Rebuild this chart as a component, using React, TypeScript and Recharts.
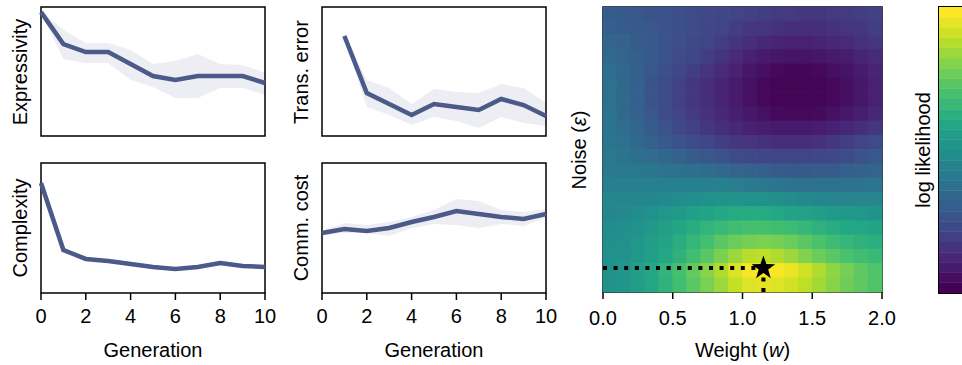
import React from "react"
import {
  ComposedChart,
  Area,
  Line,
  XAxis,
  YAxis,
  ReferenceArea,
  ScatterChart,
  Scatter,
  BarChart,
  Bar,
} from "recharts"

const generations = [0, 1, 2, 3, 4, 5, 6, 7, 8, 9, 10]
const generationTicks = [0, 2, 4, 6, 8, 10]

const expressivity = [0.96, 0.713, 0.651, 0.651, 0.558, 0.465, 0.434, 0.465, 0.465, 0.465, 0.411]
const expressivityLow = [0.95, 0.597, 0.566, 0.566, 0.434, 0.38, 0.295, 0.295, 0.372, 0.372, 0.318]
const expressivityHigh = [0.97, 0.822, 0.721, 0.721, 0.667, 0.558, 0.581, 0.636, 0.558, 0.55, 0.488]

const transError = [null, 0.775, 0.333, 0.248, 0.163, 0.248, 0.225, 0.202, 0.287, 0.24, 0.155]
const transErrorLow = [null, 0.76, 0.225, 0.163, 0.085, 0.147, 0.116, 0.062, 0.147, 0.101, 0.078]
const transErrorHigh = [null, 0.798, 0.434, 0.372, 0.248, 0.364, 0.341, 0.333, 0.403, 0.372, 0.256]

const complexity = [0.846, 0.331, 0.262, 0.246, 0.223, 0.2, 0.185, 0.2, 0.231, 0.208, 0.2]
const complexityLow = [0.84, 0.31, 0.25, 0.235, 0.21, 0.19, 0.17, 0.185, 0.215, 0.195, 0.185]
const complexityHigh = [0.85, 0.35, 0.275, 0.26, 0.235, 0.21, 0.2, 0.215, 0.25, 0.222, 0.215]

const commCost = [0.462, 0.492, 0.477, 0.5, 0.546, 0.585, 0.631, 0.608, 0.585, 0.569, 0.608]
const commCostLow = [0.446, 0.462, 0.462, 0.438, 0.5, 0.531, 0.523, 0.5, 0.531, 0.515, 0.577]
const commCostHigh = [0.477, 0.538, 0.523, 0.546, 0.585, 0.638, 0.723, 0.708, 0.638, 0.623, 0.646]

// likelihood surface, cell centres (weight across, noise top to bottom), 0 = lowest, 1 = highest
const weightBins = [0.05, 0.15, 0.25, 0.35, 0.45, 0.55, 0.65, 0.75, 0.85, 0.95, 1.05, 1.15, 1.25, 1.35, 1.45, 1.55, 1.65, 1.75, 1.85, 1.95]
const noiseBins = [0.975, 0.925, 0.875, 0.825, 0.775, 0.725, 0.675, 0.625, 0.575, 0.525, 0.475, 0.425, 0.375, 0.325, 0.275, 0.225, 0.175, 0.125, 0.075, 0.025]
const likelihoodGrid = [
  [0.29, 0.28, 0.27, 0.26, 0.25, 0.24, 0.23, 0.22, 0.21, 0.2, 0.19, 0.18, 0.17, 0.17, 0.16, 0.16, 0.17, 0.17, 0.18, 0.19],
  [0.3, 0.29, 0.28, 0.27, 0.26, 0.24, 0.23, 0.21, 0.2, 0.18, 0.16, 0.15, 0.14, 0.13, 0.13, 0.13, 0.14, 0.15, 0.16, 0.18],
  [0.32, 0.31, 0.29, 0.28, 0.26, 0.24, 0.22, 0.2, 0.18, 0.15, 0.13, 0.11, 0.1, 0.09, 0.09, 0.1, 0.11, 0.12, 0.14, 0.16],
  [0.34, 0.32, 0.3, 0.28, 0.26, 0.23, 0.21, 0.18, 0.15, 0.12, 0.09, 0.07, 0.06, 0.055, 0.055, 0.06, 0.07, 0.08, 0.1, 0.12],
  [0.36, 0.33, 0.3, 0.27, 0.24, 0.21, 0.18, 0.15, 0.12, 0.09, 0.06, 0.04, 0.02, 0.015, 0.015, 0.02, 0.04, 0.055, 0.075, 0.1],
  [0.37, 0.33, 0.3, 0.26, 0.23, 0.19, 0.16, 0.13, 0.1, 0.07, 0.045, 0.02, 0.01, 0.01, 0.01, 0.01, 0.02, 0.04, 0.065, 0.09],
  [0.37, 0.34, 0.3, 0.26, 0.23, 0.19, 0.16, 0.13, 0.1, 0.07, 0.045, 0.02, 0.01, 0.01, 0.01, 0.01, 0.02, 0.04, 0.065, 0.09],
  [0.38, 0.34, 0.31, 0.27, 0.23, 0.2, 0.17, 0.14, 0.11, 0.085, 0.065, 0.045, 0.025, 0.02, 0.02, 0.025, 0.045, 0.065, 0.085, 0.11],
  [0.38, 0.35, 0.32, 0.29, 0.25, 0.22, 0.19, 0.16, 0.13, 0.11, 0.09, 0.08, 0.07, 0.07, 0.07, 0.08, 0.09, 0.11, 0.13, 0.16],
  [0.39, 0.37, 0.34, 0.31, 0.28, 0.26, 0.23, 0.21, 0.18, 0.16, 0.15, 0.14, 0.13, 0.13, 0.13, 0.14, 0.16, 0.18, 0.2, 0.23],
  [0.4, 0.38, 0.36, 0.35, 0.33, 0.31, 0.29, 0.27, 0.25, 0.23, 0.22, 0.21, 0.2, 0.2, 0.2, 0.21, 0.22, 0.23, 0.25, 0.27],
  [0.41, 0.4, 0.4, 0.39, 0.38, 0.37, 0.36, 0.35, 0.34, 0.32, 0.31, 0.3, 0.29, 0.28, 0.28, 0.29, 0.29, 0.3, 0.31, 0.32],
  [0.43, 0.43, 0.43, 0.43, 0.43, 0.43, 0.43, 0.43, 0.43, 0.42, 0.41, 0.4, 0.39, 0.38, 0.37, 0.37, 0.37, 0.37, 0.38, 0.39],
  [0.45, 0.45, 0.46, 0.46, 0.47, 0.48, 0.49, 0.5, 0.51, 0.51, 0.5, 0.5, 0.49, 0.48, 0.47, 0.46, 0.45, 0.45, 0.45, 0.45],
  [0.46, 0.47, 0.48, 0.5, 0.52, 0.54, 0.56, 0.58, 0.6, 0.61, 0.61, 0.61, 0.6, 0.58, 0.57, 0.55, 0.54, 0.53, 0.52, 0.51],
  [0.48, 0.49, 0.51, 0.53, 0.56, 0.59, 0.62, 0.65, 0.67, 0.69, 0.7, 0.7, 0.69, 0.68, 0.66, 0.64, 0.62, 0.6, 0.59, 0.58],
  [0.49, 0.5, 0.52, 0.55, 0.58, 0.62, 0.66, 0.7, 0.74, 0.77, 0.79, 0.8, 0.79, 0.77, 0.74, 0.71, 0.68, 0.66, 0.64, 0.63],
  [0.5, 0.51, 0.53, 0.56, 0.6, 0.64, 0.69, 0.74, 0.8, 0.85, 0.89, 0.9, 0.88, 0.85, 0.81, 0.77, 0.74, 0.71, 0.69, 0.67],
  [0.5, 0.52, 0.55, 0.6, 0.65, 0.7, 0.76, 0.82, 0.88, 0.95, 0.99, 1, 0.99, 0.97, 0.93, 0.88, 0.83, 0.79, 0.75, 0.72],
  [0.51, 0.52, 0.55, 0.59, 0.64, 0.69, 0.74, 0.8, 0.85, 0.91, 0.95, 0.96, 0.95, 0.93, 0.9, 0.86, 0.82, 0.78, 0.75, 0.72],
]
const weightTicks = [0, 0.5, 1, 1.5, 2]
const bestFit = { w: 1.15, e: 0.084 }
const guideHorizontal = [{ w: 0, e: 0.084 }, { w: 1.15, e: 0.084 }]
const guideVertical = [{ w: 1.15, e: 0 }, { w: 1.15, e: 0.084 }]
const colorbarSteps = 28

const FONT = '"Liberation Sans", Arial, Helvetica, sans-serif'
const LINE_COLOR = "#4c5a8a"
const BAND_COLOR = "#eceef4"
const SIDE = 20

const VIRIDIS = [
  "#440154", "#482475", "#414487", "#355f8d", "#2a788e", "#21918c",
  "#22a884", "#44bf70", "#7ad151", "#bddf26", "#fde725",
]

function viridis(t: number) {
  const s = Math.max(0, Math.min(1, t)) * 10
  const i = Math.min(9, Math.floor(s))
  const f = s - i
  const a = VIRIDIS[i]
  const b = VIRIDIS[i + 1]
  const ch = (hex: string, k: number) => parseInt(hex.slice(1 + 2 * k, 3 + 2 * k), 16)
  const mix = (k: number) => Math.round(ch(a, k) + (ch(b, k) - ch(a, k)) * f)
  return `rgb(${mix(0)},${mix(1)},${mix(2)})`
}

const tickStyle = { fill: "#000", fontSize: 20, fontFamily: FONT }

function TextAt({ x, y, children, rotate = false }: any) {
  // x, y: centre for rotated text, centre-x / baseline for horizontal text
  const base: any = {
    position: "absolute",
    width: 200,
    height: 20,
    lineHeight: "20px",
    textAlign: "center",
    fontFamily: FONT,
    fontSize: 20,
    whiteSpace: "nowrap",
  }
  if (rotate) {
    return (
      <div style={{ ...base, left: x, top: y, transform: "translate(-50%, -50%) rotate(-90deg)" }}>
        {children}
      </div>
    )
  }
  return <div style={{ ...base, left: x - 100, top: y - 17 }}>{children}</div>
}

function Panel({ left, top, plotHeight, values, low, high, showX }: any) {
  const data = generations.map((g, i) => ({
    g,
    v: values[i],
    band: values[i] == null ? null : [low[i], high[i]],
  }))
  const axisH = showX ? 40 : 0
  return (
    <div style={{ position: "absolute", left: left - SIDE, top: top - 5 }}>
      <ComposedChart
        width={224 + 2 * SIDE}
        height={plotHeight + 10 + axisH}
        data={data}
        margin={{ top: 5, right: SIDE, left: SIDE, bottom: 5 }}
      >
        <XAxis
          type="number"
          dataKey="g"
          domain={[0, 10]}
          ticks={generationTicks}
          interval={0}
          hide={!showX}
          height={axisH}
          axisLine={false}
          tickSize={7}
          tickMargin={9}
          tickLine={{ stroke: "#000", strokeWidth: 1.5 }}
          tick={tickStyle}
        />
        <YAxis type="number" domain={[0, 1]} hide />
        <Area
          type="linear"
          dataKey="band"
          stroke="none"
          fill={BAND_COLOR}
          fillOpacity={1}
          isAnimationActive={false}
        />
        <Line
          type="linear"
          dataKey="v"
          stroke={LINE_COLOR}
          strokeWidth={4.5}
          dot={false}
          isAnimationActive={false}
        />
        <ReferenceArea x1={0} x2={10} y1={0} y2={1} fill="none" stroke="#000" strokeWidth={1.5} />
      </ComposedChart>
    </div>
  )
}

function Star(props: any) {
  const { cx, cy } = props
  const pts: string[] = []
  for (let k = 0; k < 10; k++) {
    const r = k % 2 === 0 ? 12.5 : 5
    const a = -Math.PI / 2 + (k * Math.PI) / 5
    pts.push(`${cx + r * Math.cos(a)},${cy + r * Math.sin(a)}`)
  }
  return <polygon points={pts.join(" ")} fill="#000" />
}

const guideLine = { stroke: "#000", strokeWidth: 4, strokeDasharray: "4 6.6" }

function Heatmap() {
  const cells: any[] = []
  noiseBins.forEach((e, r) => {
    weightBins.forEach((w, c) => {
      cells.push({ w, e, v: likelihoodGrid[r][c] })
    })
  })
  const cellW = 279 / 20 + 0.7
  const cellH = 285 / 20 + 0.7
  return (
    <div style={{ position: "absolute", left: 603 - SIDE, top: 2 }}>
      <ScatterChart width={279 + 2 * SIDE} height={335} margin={{ top: 5, right: SIDE, left: SIDE, bottom: 5 }}>
        <XAxis
          type="number"
          dataKey="w"
          domain={[0, 2]}
          ticks={weightTicks}
          interval={0}
          height={40}
          axisLine={false}
          tickSize={7}
          tickMargin={12}
          tickLine={{ stroke: "#000", strokeWidth: 1.5 }}
          tick={tickStyle}
          tickFormatter={(v: number) => v.toFixed(1)}
        />
        <YAxis type="number" dataKey="e" domain={[0, 1]} hide />
        <Scatter
          data={cells}
          isAnimationActive={false}
          shape={(p: any) => {
            const v = p.payload ? p.payload.v : p.v
            return (
              <rect
                x={p.cx - cellW / 2}
                y={p.cy - cellH / 2}
                width={cellW}
                height={cellH}
                fill={viridis(v)}
              />
            )
          }}
        />
        <Scatter data={guideHorizontal} line={guideLine} lineType="joint" shape={() => null} isAnimationActive={false} />
        <Scatter data={guideVertical} line={guideLine} lineType="joint" shape={() => null} isAnimationActive={false} />
        <Scatter data={[bestFit]} isAnimationActive={false} shape={<Star />} />
        <ReferenceArea x1={0} x2={2} y1={0} y2={1} fill="none" stroke="#000" strokeWidth={1.5} />
      </ScatterChart>
    </div>
  )
}

function Colorbar() {
  const row: any = { k: "cb" }
  for (let i = 0; i < colorbarSteps; i++) row[`b${i}`] = 1
  const keys = Object.keys(row).filter((k) => k !== "k")
  return (
    <div
      style={{
        position: "absolute",
        left: 938,
        top: 6,
        width: 40,
        height: 286,
        border: "1.5px solid #000",
        overflow: "hidden",
      }}
    >
      <BarChart
        width={40}
        height={286}
        data={[row]}
        margin={{ top: 0, right: 0, left: 0, bottom: 0 }}
        barCategoryGap={0}
        barGap={0}
      >
        <XAxis dataKey="k" hide />
        <YAxis type="number" domain={[0, colorbarSteps]} hide />
        {keys.map((k, i) => (
          <Bar
            key={k}
            dataKey={k}
            stackId="a"
            fill={viridis(i / (colorbarSteps - 1))}
            stroke={viridis(i / (colorbarSteps - 1))}
            strokeWidth={0.5}
            isAnimationActive={false}
          />
        ))}
      </BarChart>
    </div>
  )
}

export default function App() {
  return (
    <div
      style={{
        position: "absolute",
        left: 0,
        top: 0,
        width: 962,
        height: 365,
        overflow: "hidden",
        background: "#fff",
        fontFamily: FONT,
      }}
    >
      <Panel left={41} top={7} plotHeight={129} values={expressivity} low={expressivityLow} high={expressivityHigh} showX={false} />
      <Panel left={322} top={7} plotHeight={129} values={transError} low={transErrorLow} high={transErrorHigh} showX={false} />
      <Panel left={41} top={163} plotHeight={130} values={complexity} low={complexityLow} high={complexityHigh} showX={true} />
      <Panel left={322} top={163} plotHeight={130} values={commCost} low={commCostLow} high={commCostHigh} showX={true} />
      <Heatmap />
      <Colorbar />

      <TextAt x={20} y={71.5} rotate>Expressivity</TextAt>
      <TextAt x={300.5} y={71.5} rotate>Trans. error</TextAt>
      <TextAt x={20} y={228} rotate>Complexity</TextAt>
      <TextAt x={300.5} y={228} rotate>Comm. cost</TextAt>
      <TextAt x={153} y={357}>Generation</TextAt>
      <TextAt x={434} y={357}>Generation</TextAt>
      <TextAt x={742.5} y={357}>
        Weight (<i>w</i>)
      </TextAt>
      <TextAt x={579} y={150} rotate>
        Noise (<i>ε</i>)
      </TextAt>
      <TextAt x={923} y={150} rotate>log likelihood</TextAt>
    </div>
  )
}
